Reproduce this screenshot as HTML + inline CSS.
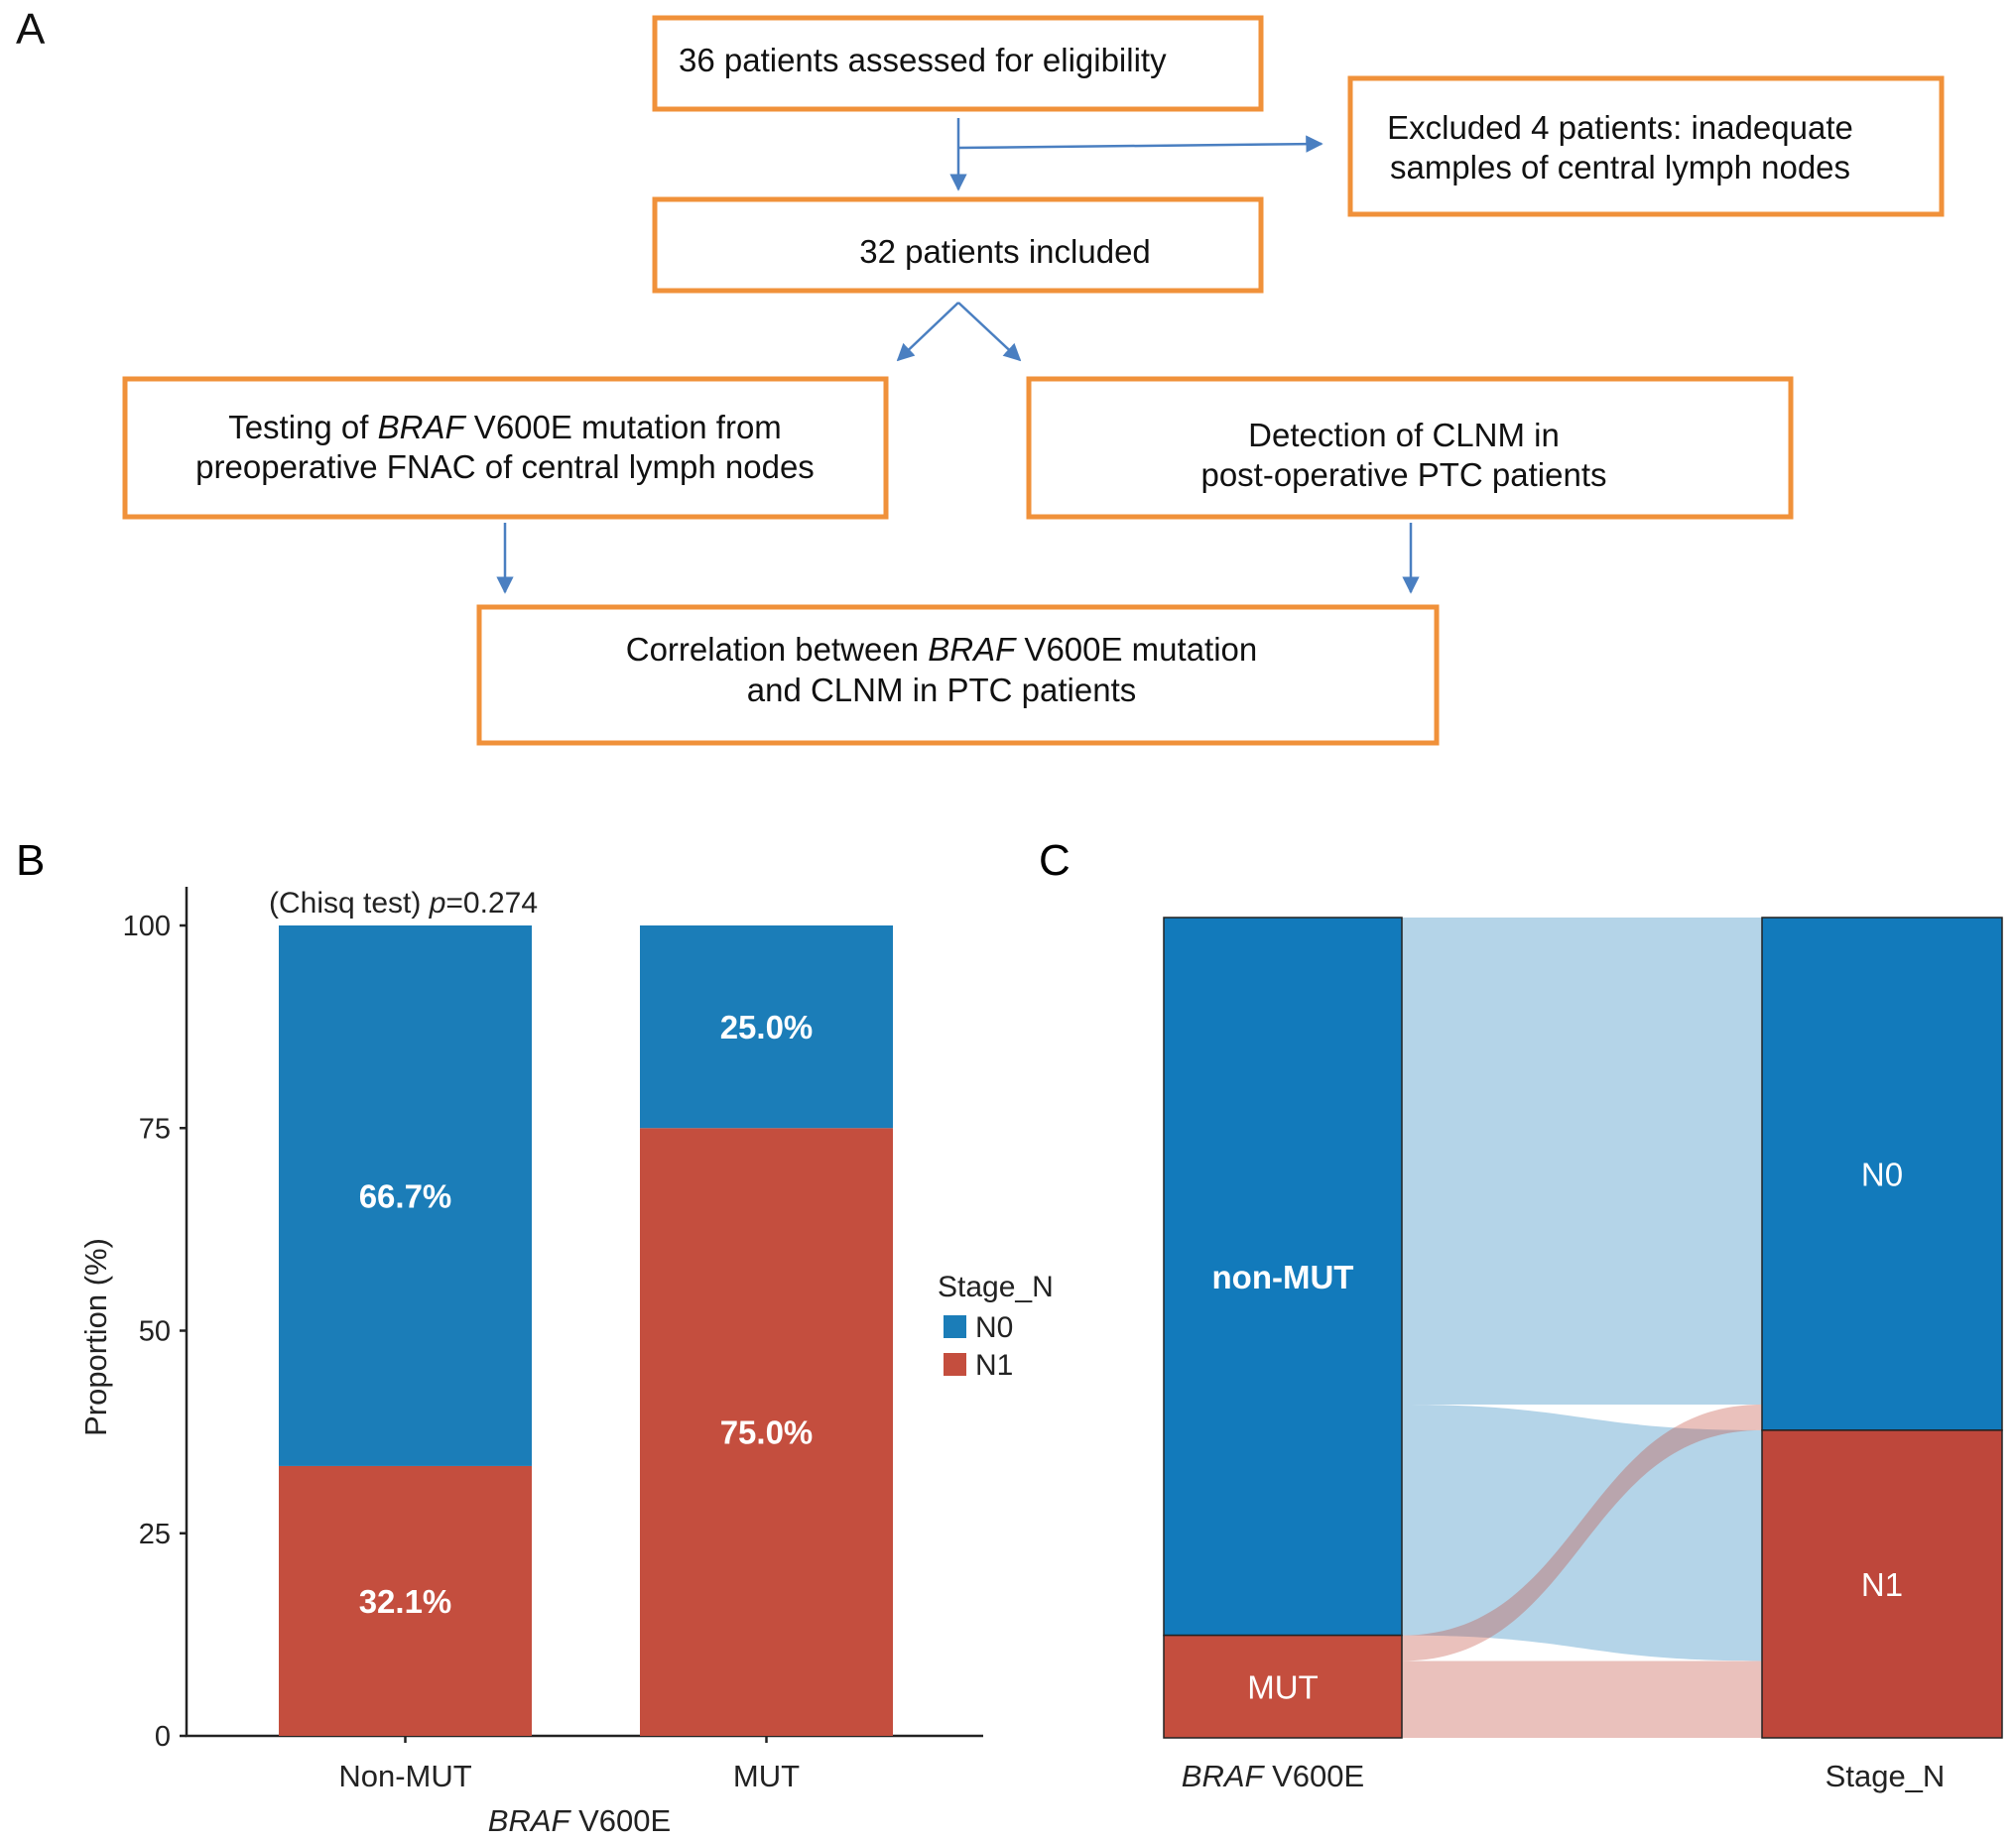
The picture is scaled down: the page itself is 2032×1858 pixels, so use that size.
<!DOCTYPE html>
<html><head><meta charset="utf-8"><style>
html,body{margin:0;padding:0;background:#fff}
svg{display:block;font-family:"Liberation Sans",Arial,sans-serif}
</style></head><body>
<svg id="fig" width="2032" height="1858" viewBox="0 0 2032 1858" xmlns="http://www.w3.org/2000/svg">
<defs>
<marker id="ah" viewBox="0 0 10 10" refX="9" refY="5" markerWidth="7" markerHeight="7" orient="auto"><path d="M0,0 L10,5 L0,10 z" fill="#4a7fc1"/></marker>
</defs>
<g font-size="33" fill="#111">
<text x="16" y="44" font-size="44">A</text>
<g fill="none" stroke="#F0913A" stroke-width="5">
<rect x="660" y="18" width="611" height="92"/>
<rect x="1361" y="79" width="596" height="137"/>
<rect x="660" y="201" width="611" height="92"/>
<rect x="126" y="382" width="767" height="139"/>
<rect x="1037" y="382" width="768" height="139"/>
<rect x="483" y="612" width="965" height="137"/>
</g>
<g stroke="#4a7fc1" stroke-width="2.5" fill="none" marker-end="url(#ah)">
<line x1="966" y1="119" x2="966" y2="191"/>
<line x1="966" y1="149" x2="1332" y2="145"/>
<line x1="966" y1="305" x2="905" y2="363"/>
<line x1="966" y1="305" x2="1028" y2="363"/>
<line x1="509" y1="527" x2="509" y2="597"/>
<line x1="1422" y1="527" x2="1422" y2="597"/>
</g>
<text x="684" y="72">36 patients assessed for eligibility</text>
<text x="1633" y="140" text-anchor="middle">Excluded 4 patients: inadequate</text>
<text x="1633" y="180" text-anchor="middle">samples of central lymph nodes</text>
<text x="1013" y="265" text-anchor="middle">32 patients included</text>
<text x="509" y="442" text-anchor="middle">Testing of <tspan font-style="italic">BRAF</tspan> V600E mutation from</text>
<text x="509" y="482" text-anchor="middle">preoperative FNAC of central lymph nodes</text>
<text x="1415" y="450" text-anchor="middle">Detection of CLNM in</text>
<text x="1415" y="490" text-anchor="middle">post-operative PTC patients</text>
<text x="949" y="666" text-anchor="middle">Correlation between <tspan font-style="italic">BRAF</tspan> V600E mutation</text>
<text x="949" y="707" text-anchor="middle">and CLNM in PTC patients</text>
</g>
<g id="panelB"></g>
<g id="panelC"></g>
</svg>
<script>
const categories = ["Non-MUT", "MUT"];
const n1Values = [33.3, 75.0];
const n0Values = [66.7, 25.0];
const n1Labels = ["32.1%", "75.0%"];
const n0Labels = ["66.7%", "25.0%"];
const yTicks = [0, 25, 50, 75, 100];
const axisNames = ["non-MUT", "MUT"];
const stageNames = ["N0", "N1"];
const flowCounts = [[19, 9], [1, 3]]; // [mutation][stage]

const NS = "http://www.w3.org/2000/svg";
const BLUE = "#1B7DB8", RED = "#C44E3E";
function mk(parent, tag, attrs, text) {
  const e = document.createElementNS(NS, tag);
  for (const k in attrs) e.setAttribute(k, attrs[k]);
  if (text !== undefined) e.textContent = text;
  parent.appendChild(e);
  return e;
}
function italicLabel(parent, attrs, ital, rest) {
  const e = mk(parent, "text", attrs);
  const ts = mk(e, "tspan", {"font-style": "italic"}, ital);
  e.appendChild(document.createTextNode(rest));
  return e;
}
// Panel B
const B = document.getElementById("panelB");
const y0 = 1750, y100 = 933;
const yS = v => y0 - (y0 - y100) * v / 100;
const barL = [281, 645], barW = 255;
let t = mk(B, "text", {x: 16, y: 882, "font-size": 44});


t.textContent = "B";
let ax = mk(B, "path", {d: "M188,894 L188,1750 L991,1750", fill: "none", stroke: "#222", "stroke-width": 2.5});


yTicks.forEach(v => {
  const tk = mk(B, "line", {x1: 181, x2: 188, y1: yS(v), y2: yS(v), stroke: "#222", "stroke-width": 2.5});
  
  
  const tl = mk(B, "text", {x: 172, y: yS(v) + 10, "text-anchor": "end", "font-size": 29, fill: "#222"}, String(v));
  
  
});
categories.forEach((c, i) => {
  const x = barL[i];
  const r1 = mk(B, "rect", {x: x, y: yS(n1Values[i]), width: barW, height: y0 - yS(n1Values[i]), fill: RED});
  
  
  const stackTop = n1Values[i] + n0Values[i];
  const r0 = mk(B, "rect", {x: x, y: yS(stackTop), width: barW, height: yS(n1Values[i]) - yS(stackTop), fill: BLUE});
  
  
  const cx = x + barW / 2;
  const l1 = mk(B, "text", {x: cx, y: yS(n1Values[i] / 2) + 12, "text-anchor": "middle", "font-size": 33, "font-weight": "bold", fill: "#fff"}, n1Labels[i]);
  
  
  const l0 = mk(B, "text", {x: cx, y: yS(n1Values[i] + n0Values[i] / 2) + 12, "text-anchor": "middle", "font-size": 33, "font-weight": "bold", fill: "#fff"}, n0Labels[i]);
  
  
  const xt = mk(B, "line", {x1: cx, x2: cx, y1: 1750, y2: 1757, stroke: "#222", "stroke-width": 2.5});
  
  
  const xl = mk(B, "text", {x: cx, y: 1801, "text-anchor": "middle", "font-size": 31, fill: "#222"}, c);
  
  
});
let xtitle = italicLabel(B, {x: 584, y: 1846, "text-anchor": "middle", "font-size": 31, fill: "#222"}, "BRAF", " V600E");


let ytitle = mk(B, "text", {x: 0, y: 0, transform: "translate(107,1348) rotate(-90)", "text-anchor": "middle", "font-size": 31, fill: "#222"}, "Proportion (%)");


let ptxt = italicLabel(B, {x: 271, y: 920, "font-size": 30, fill: "#222"}, "", "");
ptxt.textContent = "";
mk(ptxt, "tspan", {}, "(Chisq test) ");
mk(ptxt, "tspan", {"font-style": "italic"}, "p");
mk(ptxt, "tspan", {}, "=0.274");


let lgT = mk(B, "text", {x: 945, y: 1307, "font-size": 30, fill: "#222"}, "Stage_N");


[[BLUE, "N0", 1326], [RED, "N1", 1364]].forEach(([col, lab, yy]) => {
  const s = mk(B, "rect", {x: 951, y: yy, width: 23, height: 23, fill: col});
  
  
  const lt = mk(B, "text", {x: 983, y: yy + 22, "font-size": 30, fill: "#222"}, lab);
  
  
});
// Panel C
const C = document.getElementById("panelC");
let cl = mk(C, "text", {x: 1047, y: 882, "font-size": 44}, "C");


const cTop = 925, cBot = 1752;
const total = flowCounts.flat().reduce((a, b) => a + b, 0);
const u = (cBot - cTop) / total;
const Lx0 = 1173, Lx1 = 1413, Rx0 = 1776, Rx1 = 2018;
const mutTot = flowCounts.map(r => r[0] + r[1]);
const stTot = [flowCounts[0][0] + flowCounts[1][0], flowCounts[0][1] + flowCounts[1][1]];
const leftPos = {}, rightPos = {};
let yy = cTop;
for (let m = 0; m < 2; m++) for (let s = 0; s < 2; s++) { leftPos[m + "" + s] = yy; yy += flowCounts[m][s] * u; }
yy = cTop;
for (let s = 0; s < 2; s++) for (let m = 0; m < 2; m++) { rightPos[m + "" + s] = yy; yy += flowCounts[m][s] * u; }
const mx = (Lx1 + Rx0) / 2;
["00", "01", "11", "10"].forEach(k => {
  const m = +k[0], s = +k[1];
  const h = flowCounts[m][s] * u;
  const a = leftPos[k], b = rightPos[k];
  const d = `M${Lx1},${a} C${mx},${a} ${mx},${b} ${Rx0},${b} L${Rx0},${b + h} C${mx},${b + h} ${mx},${a + h} ${Lx1},${a + h} Z`;
  const p = mk(C, "path", {d: d, fill: m === 0 ? BLUE : RED, "fill-opacity": m === 0 ? 0.33 : 0.35});
  
  
});
let ly = cTop;
for (let m = 0; m < 2; m++) {
  const h = mutTot[m] * u;
  const r = mk(C, "rect", {x: Lx0, y: ly, width: Lx1 - Lx0, height: h, fill: m === 0 ? "#127ABB" : RED, stroke: "#222", "stroke-width": 1.5});
  
  
  const tx = mk(C, "text", {x: (Lx0 + Lx1) / 2, y: ly + h / 2 + 12, "text-anchor": "middle", "font-size": 33, "font-weight": m === 0 ? "bold" : "normal", fill: "#fff"}, axisNames[m]);
  
  
  ly += h;
}
ly = cTop;
for (let s = 0; s < 2; s++) {
  const h = stTot[s] * u;
  const r = mk(C, "rect", {x: Rx0, y: ly, width: Rx1 - Rx0, height: h, fill: s === 0 ? "#127ABB" : "#BE473B", stroke: "#222", "stroke-width": 1.5});
  
  
  const tx = mk(C, "text", {x: (Rx0 + Rx1) / 2, y: ly + h / 2 + 12, "text-anchor": "middle", "font-size": 33, fill: "#fff"}, stageNames[s]);
  
  
  ly += h;
}
let a1 = italicLabel(C, {x: 1283, y: 1801, "text-anchor": "middle", "font-size": 31, fill: "#222"}, "BRAF", " V600E");


let a2 = mk(C, "text", {x: 1900, y: 1801, "text-anchor": "middle", "font-size": 31, fill: "#222"}, "Stage_N");


</script>
</body></html>
